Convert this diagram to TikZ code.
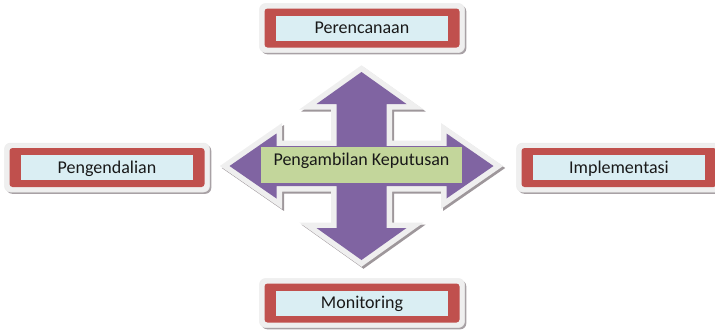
\documentclass[tikz,border=0pt]{standalone}
\usepackage{fontspec}
\setmainfont{Carlito}
\usetikzlibrary{shadows}
\definecolor{boxred}{HTML}{C0504D}
\definecolor{boxblue}{HTML}{DAEEF3}
\definecolor{arrpurple}{HTML}{8064A2}
\definecolor{decgreen}{HTML}{C3D69B}
\definecolor{framecol}{HTML}{EFEFEF}
\definecolor{shadecol}{HTML}{9E979B}
\begin{document}
\begin{tikzpicture}[x=1pt,y=-1pt,
  frameb/.style={rounded corners=6pt, fill=framecol, draw=gray!15, line width=0.5pt,
    minimum width=205pt, minimum height=49pt, inner sep=0pt,
    drop shadow={shadow xshift=1.8pt, shadow yshift=-1.8pt, fill=shadecol, opacity=0.9}},
  redb/.style={rounded corners=3pt, fill=boxred, minimum width=195pt, minimum height=39pt, inner sep=0pt},
  blueb/.style={fill=boxblue, minimum width=172pt, minimum height=25pt, inner sep=0pt,
    font=\fontsize{18}{20}\selectfont, text height=11.6pt, text depth=0pt, text=black!90},
  labtxt/.style={font=\fontsize{18}{20}\selectfont, inner sep=0pt, text=black!90}]
\useasboundingbox (0,0) rectangle (715,330);

% central four-way arrow
\def\arrowpath{(0,-94) -- (45,-62) -- (25,-62) -- (25,-20) -- (85,-20) -- (85,-32.5) -- (132,0)
  -- (85,32.5) -- (85,20) -- (25,20) -- (25,62) -- (45,62) -- (0,94) -- (-45,62) -- (-25,62)
  -- (-25,20) -- (-85,20) -- (-85,32.5) -- (-132,0) -- (-85,-32.5) -- (-85,-20) -- (-25,-20)
  -- (-25,-62) -- (-45,-62) -- cycle}
\begin{scope}[shift={(363.5,168)}]
  \filldraw[fill=shadecol, draw=shadecol, line width=11pt, line join=miter] \arrowpath;
\end{scope}
\begin{scope}[shift={(361.5,166)}]
  \filldraw[fill=framecol, draw=framecol, line width=11pt, line join=miter] \arrowpath;
  \fill[arrpurple] \arrowpath;
\end{scope}

\node[fill=decgreen, minimum width=201pt, minimum height=36pt, inner sep=0pt] (green) at (361.5,165) {};
\node[labtxt, anchor=base] (pk) at (361.5,165) {Pengambilan Keputusan};

% top
\node[frameb] (ftop) at (362,28) {};
\node[redb] (rtop) at (ftop.center) {};
\node[blueb] (ptop) at (rtop.center) {Perencanaan};
% left
\node[frameb] (fleft) at (107,167.5) {};
\node[redb] (rleft) at (fleft.center) {};
\node[blueb] (pleft) at (rleft.center) {Pengendalian};
% right
\node[frameb] (fright) at (619,167.5) {};
\node[redb] (rright) at (fright.center) {};
\node[blueb] (pright) at (rright.center) {Implementasi};
% bottom
\node[frameb] (fbot) at (362,303) {};
\node[redb] (rbot) at (fbot.center) {};
\node[blueb] (pbot) at (rbot.center) {Monitoring};
\end{tikzpicture}
\end{document}
